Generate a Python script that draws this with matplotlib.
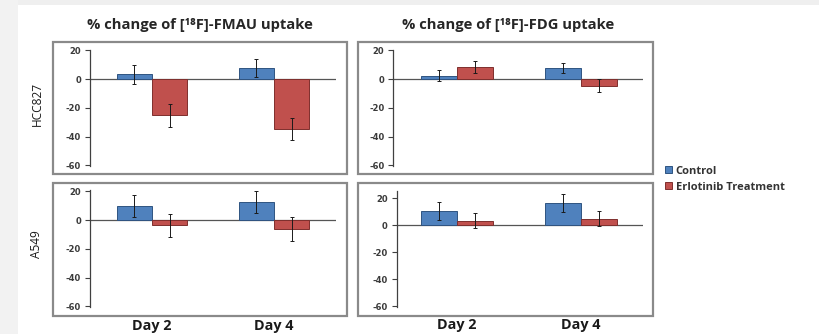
import matplotlib
matplotlib.use("Agg")
import matplotlib.pyplot as plt
from matplotlib.patches import Rectangle, Patch

plt.rcParams['font.family'] = ['Open Sans', 'DejaVu Sans']
plt.rcParams['axes.unicode_minus'] = False

# values (% change), per panel: control / erlotinib
days = ["Day 2", "Day 4"]
series = ["Control", "Erlotinib Treatment"]
rows = ["HCC827", "A549"]
titles = ["% change of [\u00b9\u2078F]-FMAU uptake", "% change of [\u00b9\u2078F]-FDG uptake"]

hcc_fmau_ctrl = [3.2, 7.4]
hcc_fmau_ctrl_err = [6.5, 6.3]
hcc_fmau_erl = [-25.3, -34.8]
hcc_fmau_erl_err = [7.8, 7.8]

hcc_fdg_ctrl = [2.3, 7.8]
hcc_fdg_ctrl_err = [3.9, 3.6]
hcc_fdg_erl = [8.5, -4.6]
hcc_fdg_erl_err = [4.2, 4.3]

a549_fmau_ctrl = [9.8, 12.5]
a549_fmau_ctrl_err = [7.5, 7.8]
a549_fmau_erl = [-3.7, -6.1]
a549_fmau_erl_err = [8.2, 8.4]

a549_fdg_ctrl = [10.5, 16.3]
a549_fdg_ctrl_err = [6.5, 6.8]
a549_fdg_erl = [3.2, 4.7]
a549_fdg_erl_err = [5.5, 5.5]

yticks = [20, 0, -20, -40, -60]

W, H = 819, 334
fig = plt.figure(figsize=(W / 100, H / 100), dpi=100)
fig.patch.set_facecolor("white")

# light gray page margins
fig.patches.append(Rectangle((0, 1 - 5 / H), 1, 5 / H, transform=fig.transFigure,
                             facecolor="#efefef", edgecolor="none", zorder=0))
fig.patches.append(Rectangle((0, 0), 18 / W, 1, transform=fig.transFigure,
                             facecolor="#f2f2f2", edgecolor="none", zorder=0))

def px_axes(x0, x1, ytop, ybot):
    return fig.add_axes([x0 / W, 1 - ybot / H, (x1 - x0) / W, (ybot - ytop) / H])

def box(x0, x1, ytop, ybot):
    fig.patches.append(Rectangle((x0 / W, 1 - ybot / H), (x1 - x0) / W, (ybot - ytop) / H,
                                 transform=fig.transFigure, facecolor="none",
                                 edgecolor="#8a8a8a", lw=1.6, zorder=1))

for b in [(52.7, 346.7, 41.7, 174.3), (358.3, 653.3, 41.7, 174.3),
          (52.7, 346.7, 183.3, 315.7), (358.3, 653.3, 183.3, 315.7)]:
    box(*b)

blue, blue_edge = "#4f81bd", "#2f5481"
red, red_edge = "#c0504d", "#7f2f2d"
w = 0.29
x = [0, 1]

panels = [
    # axes px extents, xlim, ylim, data
    ((90, 336, 49.5, 166.8), (-0.51, 1.51), (-61, 20.5),
     hcc_fmau_ctrl, hcc_fmau_ctrl_err, hcc_fmau_erl, hcc_fmau_erl_err),
    ((393.3, 643, 49.5, 166.8), (-0.516, 1.498), (-61, 20.5),
     hcc_fdg_ctrl, hcc_fdg_ctrl_err, hcc_fdg_erl, hcc_fdg_erl_err),
    ((90, 336, 189.8, 307.8), (-0.51, 1.51), (-61, 21),
     a549_fmau_ctrl, a549_fmau_ctrl_err, a549_fmau_erl, a549_fmau_erl_err),
    ((396.7, 643, 191.3, 307.4), (-0.486, 1.498), (-61, 25),
     a549_fdg_ctrl, a549_fdg_ctrl_err, a549_fdg_erl, a549_fdg_erl_err),
]

axes = []
for ext, xl, yl, c, ce, e, ee in panels:
    ax = px_axes(*ext)
    ax.patch.set_alpha(0)
    ax.bar([i - w / 2 for i in x], c, w, yerr=ce, color=blue, edgecolor=blue_edge, lw=0.7,
           error_kw=dict(ecolor="#1a1a1a", elinewidth=0.7, capsize=1.6, capthick=0.7), zorder=3)
    ax.bar([i + w / 2 for i in x], e, w, yerr=ee, color=red, edgecolor=red_edge, lw=0.7,
           error_kw=dict(ecolor="#1a1a1a", elinewidth=0.7, capsize=1.6, capthick=0.7), zorder=3)
    ax.axhline(0, color="#555555", lw=0.9, zorder=2)
    ax.set_xlim(*xl)
    ax.set_ylim(*yl)
    ax.set_yticks(yticks)
    ax.set_xticks([])
    for s in ["top", "right", "bottom"]:
        ax.spines[s].set_visible(False)
    ax.spines["left"].set_color("#404040")
    ax.spines["left"].set_linewidth(0.9)
    ax.spines["left"].set_bounds(-60.5, yl[1])
    ax.tick_params(axis="y", length=3.5, width=0.8, color="#404040", pad=3,
                   labelsize=6, labelcolor="#3a3a3a")
    for lab in ax.get_yticklabels():
        lab.set_fontweight("bold")
        lab.set_family("DejaVu Sans")
    axes.append(ax)

# column titles
fig.text(200 / W, 1 - 25 / H, titles[0], ha="center", va="center",
         fontsize=10.6, fontweight="bold", color="#262626")
fig.text(508 / W, 1 - 25 / H, titles[1], ha="center", va="center",
         fontsize=10.6, fontweight="bold", color="#262626")

# row labels
fig.text(37 / W, 1 - 104 / H, rows[0], rotation=90, ha="center", va="center",
         fontsize=8.6, color="#1a1a1a")
fig.text(37 / W, 1 - 244 / H, rows[1], rotation=90, ha="center", va="center",
         fontsize=8.6, color="#1a1a1a")

# day labels under the bottom row
for ax in axes[2:]:
    for i, d in enumerate(days):
        ax.text(x[i], -0.155, d, transform=ax.get_xaxis_transform(), ha="center", va="center",
                fontsize=10.4, fontweight="bold", color="#1a1a1a")

handles = [Patch(facecolor=blue, edgecolor=blue_edge, lw=0.7),
           Patch(facecolor=red, edgecolor=red_edge, lw=0.7)]
leg = fig.legend(handles, series, loc="upper left",
                 bbox_to_anchor=(659 / W, 1 - 160 / H), frameon=False,
                 fontsize=8, handlelength=0.65, handleheight=0.5, handletextpad=0.35,
                 labelspacing=0.45, borderpad=0)
for t in leg.get_texts():
    t.set_fontweight("bold")
    t.set_color("#333333")

fig.savefig("out.png", dpi=100)
